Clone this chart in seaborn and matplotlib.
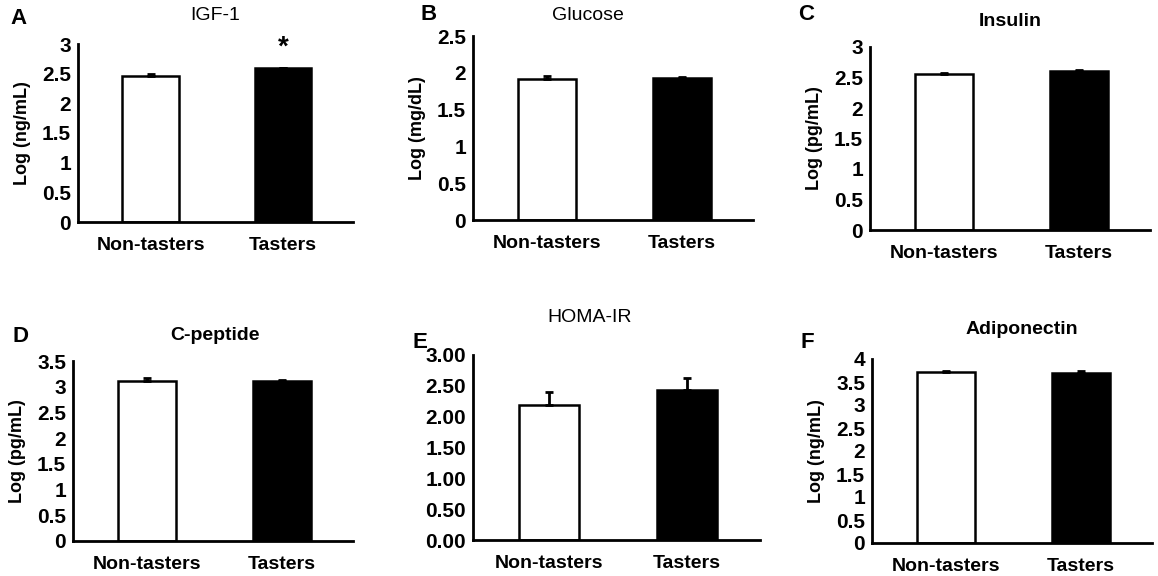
import numpy as np
import seaborn as sns
import matplotlib.pyplot as plt
import matplotlib.ticker as mticker

# data
groups = ['Non-tasters', 'Tasters']
panel_letters = ['A', 'B', 'C', 'D', 'E', 'F']
titles = ['IGF-1', 'Glucose', 'Insulin', 'C-peptide', 'HOMA-IR', 'Adiponectin']
ylabels = ['Log (ng/mL)', 'Log (mg/dL)', 'Log (pg/mL)', 'Log (pg/mL)', '', 'Log (ng/mL)']
igf1 = [2.46, 2.59]
igf1_err = [0.03, 0.01]
glucose = [1.92, 1.93]
glucose_err = [0.03, 0.01]
insulin = [2.55, 2.61]
insulin_err = [0.03, 0.02]
cpeptide = [3.11, 3.12]
cpeptide_err = [0.05, 0.02]
homa_ir = [2.19, 2.44]
homa_ir_err = [0.21, 0.19]
adiponectin = [3.72, 3.70]
adiponectin_err = [0.02, 0.04]
ymax = [3, 2.5, 3, 3.5, 3.0, 4]
ystep = [0.5, 0.5, 0.5, 0.5, 0.5, 0.5]

values = [igf1, glucose, insulin, cpeptide, homa_ir, adiponectin]
errors = [igf1_err, glucose_err, insulin_err, cpeptide_err, homa_ir_err, adiponectin_err]

sns.set_style('white')
plt.rcParams['font.family'] = ['Liberation Sans', 'DejaVu Sans']
plt.rcParams.update({'text.color': 'black', 'axes.labelcolor': 'black',
                     'xtick.color': 'black', 'ytick.color': 'black'})

W, H = 1158, 576
fig = plt.figure(figsize=(W / 100, H / 100), dpi=100)

# axes boxes in pixels: left, right, top (ymax), bottom (0)
boxes = [(78, 353, 44, 222), (473, 753, 36, 220), (870, 1150, 47, 230),
         (73, 353, 361, 541), (473, 760, 355, 540), (872, 1152, 359, 543)]
letter_pos = [(10, 18), (420, 15), (798, 15), (12, 337), (413, 342), (800, 342)]
title_pos = [(215, 15), (588, 15), (1010, 22), (215, 335), (590, 318), (1022, 330)]
title_bold = [False, False, True, True, False, True]

for i in range(6):
    l, r, t, b = boxes[i]
    ax = fig.add_axes([l / W, 1 - b / H, (r - l) / W, (b - t) / H])
    sns.barplot(x=groups, y=values[i], hue=groups, palette=['white', 'black'],
                edgecolor='black', linewidth=1.8, width=0.43, saturation=1,
                legend=False, ax=ax)
    ax.errorbar([0, 1], values[i], yerr=[[0, 0], errors[i]], fmt='none',
                ecolor='black', elinewidth=2, capsize=3, capthick=2)
    ax.set_xlim(-0.55, 1.53)
    ax.set_ylim(0, ymax[i])
    ax.set_yticks(np.arange(0, ymax[i] + 0.01, ystep[i]))
    if i == 4:
        ax.yaxis.set_major_formatter(mticker.FormatStrFormatter('%.2f'))
    else:
        ax.yaxis.set_major_formatter(mticker.FuncFormatter(lambda v, p: f'{v:g}'))
    for s in ['top', 'right']:
        ax.spines[s].set_visible(False)
    for s in ['left', 'bottom']:
        ax.spines[s].set_linewidth(2)
        ax.spines[s].set_color('black')
    ax.tick_params(axis='y', direction='out', length=4, width=1.5, pad=1,
                   labelsize=15)
    ax.tick_params(axis='x', length=0, pad=11, labelsize=14)
    for lab in ax.get_xticklabels() + ax.get_yticklabels():
        lab.set_fontweight('bold')
    ax.set_ylabel(ylabels[i], fontsize=13, fontweight='bold', labelpad=8)
    ax.set_xlabel('')
    if i == 0:
        ax.text(1, 2.72, '*', ha='center', va='bottom', fontsize=20, fontweight='bold')

    fig.text(letter_pos[i][0] / W, 1 - letter_pos[i][1] / H, panel_letters[i],
             fontsize=16, fontweight='bold', ha='left', va='center')
    fig.text(title_pos[i][0] / W, 1 - title_pos[i][1] / H, titles[i],
             fontsize=14, fontweight='bold' if title_bold[i] else 'normal',
             ha='center', va='center')

fig.savefig('out.png', dpi=100, facecolor='white')
